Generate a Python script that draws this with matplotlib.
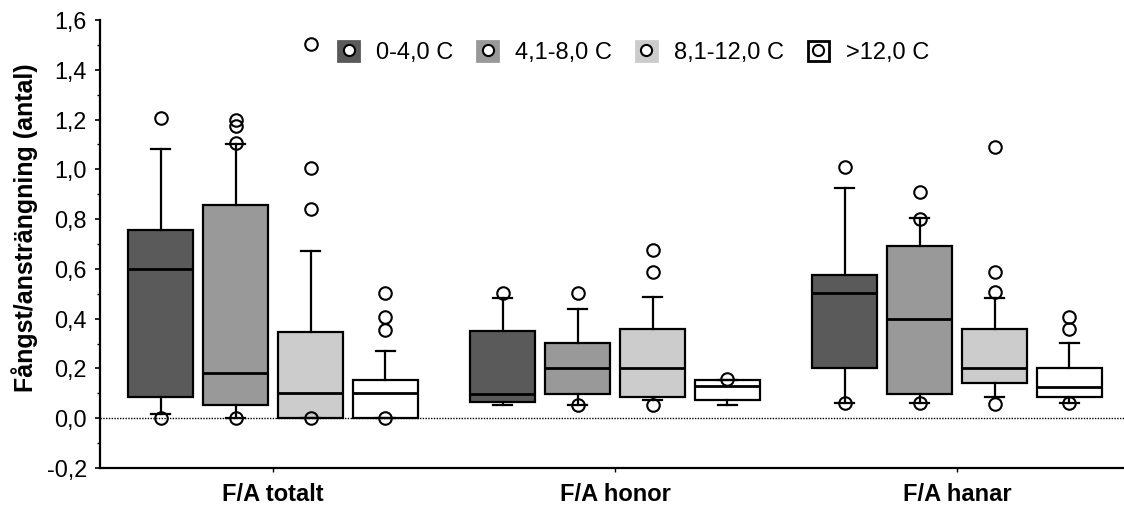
import matplotlib
matplotlib.use("Agg")
import matplotlib.pyplot as plt
from matplotlib.patches import Rectangle
from matplotlib.lines import Line2D
from matplotlib.ticker import FixedLocator, MultipleLocator, FuncFormatter

plt.rcParams['font.family'] = ['Liberation Sans', 'DejaVu Sans']

# categories and temperature classes
groups = ['F/A totalt', 'F/A honor', 'F/A hanar']
temp_labels = ['0-4,0 C', '4,1-8,0 C', '8,1-12,0 C', '>12,0 C']
temp_colors = ['#5a5a5a', '#999999', '#cccccc', '#ffffff']

# box statistics, one list per group (4 temperature classes each)
q1 = [[0.087, 0.052, 0.0, 0.0],
      [0.064, 0.099, 0.086, 0.072],
      [0.202, 0.099, 0.140, 0.087]]
med = [[0.60, 0.182, 0.10, 0.10],
       [0.098, 0.203, 0.203, 0.128],
       [0.503, 0.40, 0.202, 0.127]]
q3 = [[0.755, 0.855, 0.345, 0.155],
      [0.350, 0.304, 0.359, 0.155],
      [0.577, 0.693, 0.359, 0.202]]
whis_lo = [[0.017, 0.0, 0.0, 0.0],
           [0.053, 0.053, 0.075, 0.053],
           [0.06, 0.06, 0.087, 0.06]]
whis_hi = [[1.08, 1.10, 0.672, 0.272],
           [0.482, 0.44, 0.487, 0.155],
           [0.924, 0.803, 0.482, 0.304]]
outliers = [[[1.205, 0.0], [1.20, 1.174, 1.105, 0.0], [1.505, 1.005, 0.84, 0.0], [0.505, 0.405, 0.356, 0.0]],
            [[0.505], [0.505, 0.053], [0.676, 0.587, 0.055], [0.158]],
            [[1.01, 0.06], [0.91, 0.80, 0.06], [1.09, 0.588, 0.507, 0.057], [0.406, 0.357, 0.06]]]

fig = plt.figure(figsize=(11.24, 5.05), dpi=100)
ax = fig.add_axes([0.089, 0.0733, 0.911, 0.887])

spacing = 0.219
width = 0.19
offsets = [-1.5 * spacing, -0.5 * spacing, 0.5 * spacing, 1.5 * spacing]

ax.axhline(0, color='black', lw=1.0, linestyle=(0, (1, 1)), zorder=1)

for k in range(4):
    stats = []
    for g in range(3):
        stats.append({
            'med': med[g][k], 'q1': q1[g][k], 'q3': q3[g][k],
            'whislo': whis_lo[g][k], 'whishi': whis_hi[g][k],
            'fliers': outliers[g][k],
        })
    pos = [g + offsets[k] for g in range(3)]
    ax.bxp(stats, positions=pos, widths=width, capwidths=0.056,
           patch_artist=True, manage_ticks=False,
           boxprops=dict(facecolor=temp_colors[k], edgecolor='black', linewidth=1.6),
           medianprops=dict(color='black', linewidth=2.0),
           whiskerprops=dict(color='black', linewidth=1.6),
           capprops=dict(color='black', linewidth=1.6),
           flierprops=dict(marker='o', markerfacecolor='none', markeredgecolor='black',
                           markersize=9, markeredgewidth=1.5))

ax.set_xlim(-0.506, 2.488)
ax.set_ylim(-0.2, 1.6)

ax.xaxis.set_major_locator(FixedLocator([0, 1, 2]))
ax.set_xticklabels(groups, fontsize=17, fontweight='bold')
ax.tick_params(axis='x', direction='out', length=3, width=1, pad=7.5)

ax.yaxis.set_major_locator(MultipleLocator(0.2))
ax.yaxis.set_minor_locator(MultipleLocator(0.1))
ax.yaxis.set_major_formatter(FuncFormatter(lambda v, p: f"{v:.1f}".replace('.', ',').replace('-0,0', '0,0')))
ax.tick_params(axis='y', which='major', direction='out', length=3.5, width=1.2, labelsize=16.8, pad=6)
ax.tick_params(axis='y', which='minor', direction='out', length=2.5, width=1.0)

ax.set_ylabel('Fångst/ansträngning (antal)', fontsize=18, fontweight='bold')
ax.yaxis.set_label_coords(-0.061, 0.536)

for side in ['top', 'right']:
    ax.spines[side].set_visible(False)
for side in ['left', 'bottom']:
    ax.spines[side].set_linewidth(1.6)

# legend: coloured square with an open circle inside
handles = []
for k in range(4):
    edge = 'black' if temp_colors[k] == '#ffffff' else temp_colors[k]
    sq = Rectangle((0, 0), 1, 1, facecolor=temp_colors[k], edgecolor=edge, linewidth=2.0)
    dot = Line2D([], [], linestyle='none', marker='o', markersize=8,
                 markerfacecolor='white', markeredgecolor='black', markeredgewidth=1.5)
    handles.append((sq, dot))
ax.legend(handles, temp_labels, loc='center', bbox_to_anchor=(0.521, 0.9275),
          ncol=4, frameon=False, fontsize=17, handlelength=0.9, handleheight=0.9,
          handletextpad=0.72, columnspacing=1.0, borderaxespad=0.0, borderpad=0.0)

fig.savefig('out.png', dpi=100)
